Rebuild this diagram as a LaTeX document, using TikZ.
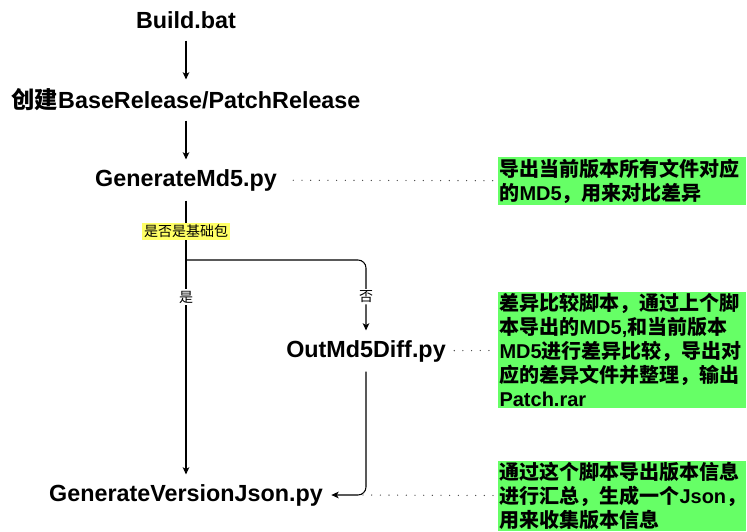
\documentclass[tikz,border=0pt]{standalone}
\usepackage{fontspec}
\setmainfont{Liberation Sans}
\newfontfamily\cjk{Noto Sans CJK SC}
\usetikzlibrary{arrows.meta,positioning}
\definecolor{notegreen}{HTML}{66FF66}
\definecolor{tagyellow}{HTML}{FFFF66}

\tikzset{
  script/.style={font=\fontsize{17.5}{21}\selectfont\bfseries, minimum height=30pt, inner xsep=6pt},
  note/.style={fill=notegreen, font=\cjk\bfseries\fontsize{15}{18}\selectfont,
    text width=183pt, align=left, inner xsep=1.5pt, inner ysep=1pt, anchor=west},
  tag/.style={font=\cjk\fontsize{10.5}{12}\selectfont, fill=white, inner sep=1.2pt},
  hint/.style={line width=1pt, line cap=round, dash pattern=on 0pt off 6.5pt, black!75},
}

\begin{document}
\begin{tikzpicture}[x=0.75pt,y=-0.75pt,node distance=60pt,line width=0.8pt,
  >={Stealth[length=5.5pt,width=5pt,inset=1.5pt]}]
  \useasboundingbox (0,0) rectangle (747,532);

  \node[script] (build) at (186,20) {Build.bat};
  \node[script] (create) [below of=build] {{\cjk 创建}BaseRelease/PatchRelease};
  \node[script] (md5) [below of=create] {GenerateMd5.py};
  \node[script] (diff) at (366,351) {OutMd5Diff.py};
  \node[script] (json) at (186,495) {GenerateVersionJson.py};

  \node[note] (n1) at (497,181) {导出当前版本所有文件对应\\的\textrm{MD5}，用来对比差异};
  \node[note] (n2) at (497,350) {差异比较脚本，通过上个脚\\本导出的\textrm{MD5,}和当前版本\\\textrm{MD5}进行差异比较，导出对\\应的差异文件并整理，输出\\\textrm{Patch.rar}};
  \node[note] (n3) at (497,496) {通过这个脚本导出版本信息\\进行汇总，生成一个\textrm{Json}，\\用来收集版本信息};

  \draw[->] (build) -- (create);
  \draw[->] (create) -- (md5);
  \draw[->] (md5) -- (json)
    node[tag, pos=0.113, fill=tagyellow] {是否是基础包}
    node[tag, pos=0.353] {是};

  \coordinate (split) at (186,260);
  \draw[->, rounded corners=6pt] (split) -| (diff) node[tag, pos=0.76] {否};
  \draw[->, rounded corners=6pt] (diff) |- (json);

  \draw[hint, shorten <=6pt, shorten >=3pt] (md5) -- (n1);
  \draw[hint, shorten >=3pt] (diff) -- (n2);
  \draw[hint, shorten <=3pt] (n3) -- ([xshift=-4pt]diff.south |- json.east);
\end{tikzpicture}
\end{document}
